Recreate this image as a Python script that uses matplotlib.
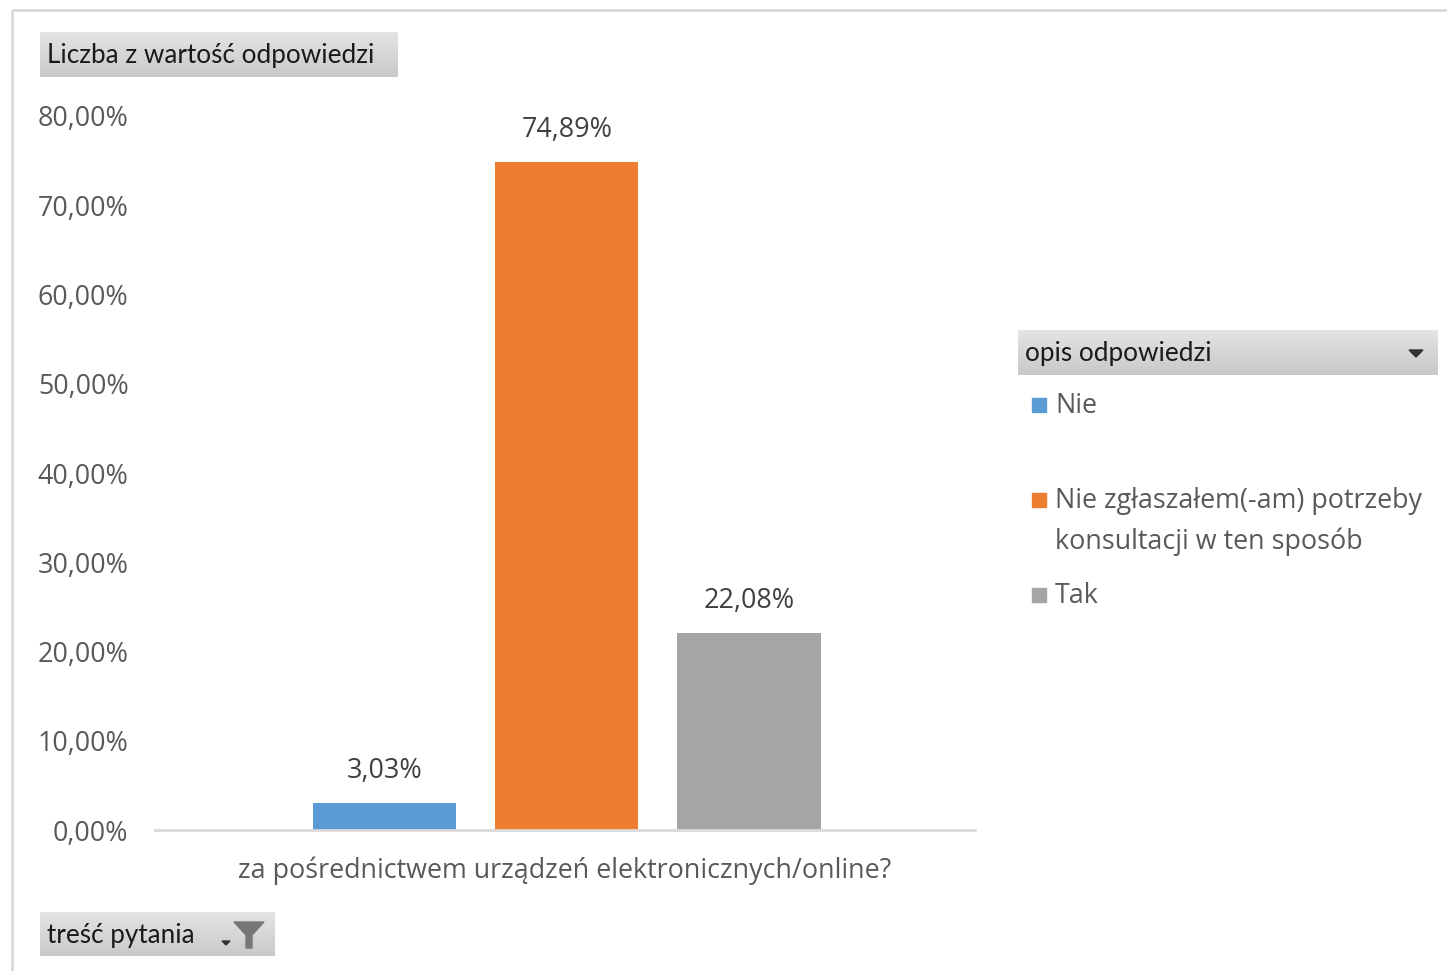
import numpy as np
import matplotlib
matplotlib.use("Agg")
import matplotlib.pyplot as plt
from matplotlib.patches import Rectangle, Polygon

plt.rcParams['font.family'] = ['Open Sans', 'DejaVu Sans']

# data
series = ["Nie", "Nie zgłaszałem(-am) potrzeby\nkonsultacji w ten sposób", "Tak"]
values = [3.03, 74.89, 22.08]
colors = ["#5B9BD5", "#ED7D31", "#A5A5A5"]
category = "za pośrednictwem urządzeń elektronicznych/online?"
yticks = [0, 10, 20, 30, 40, 50, 60, 70, 80]

W, H = 1447, 971
fig = plt.figure(figsize=(W / 100, H / 100), dpi=100)

def fx(px): return px / W
def fy(py): return 1 - py / H

txt_gray = "#595959"
fs = 19.4

# main axes
ax = fig.add_axes([fx(155), fy(830), fx(975) - fx(155), fy(116) - fy(830)])
x = np.arange(len(values))
ax.bar(x, values, width=0.786, color=colors, zorder=2)
for xi, v in zip(x, values):
    ax.text(xi, v + 2.0, f"{v:.2f}%".replace(".", ","), ha="center", va="bottom",
            fontsize=fs, color="#404040")
ax.set_xlim(-1.26, 3.24)
ax.set_ylim(0, 80)
ax.set_yticks(yticks)
ax.set_yticklabels([f"{t:.2f}%".replace(".", ",") for t in yticks], fontsize=fs, color=txt_gray)
ax.set_xticks([])
for s in ["top", "right", "left"]:
    ax.spines[s].set_visible(False)
ax.spines["bottom"].set_color("#d9d9d9")
ax.spines["bottom"].set_linewidth(2)
ax.tick_params(axis="y", length=0, pad=19)
ax.set_xlabel(category, fontsize=fs, color=txt_gray, labelpad=19)
ax.patch.set_alpha(0)

# overlay in pixel coordinates for the pivot-chart decorations
ov = fig.add_axes([0, 0, 1, 1], zorder=-1)
ov.axis("off")
ov.add_patch(Rectangle((12, 10), W + 50, H + 50, fill=False, ec="#d9d9d9", lw=2))

grad = np.linspace(0, 1, 64).reshape(-1, 1)
btn_cmap = matplotlib.colors.LinearSegmentedColormap.from_list("btn", ["#e4e4e4", "#c9c9c9"])
def button(x0, y0, x1, y1, label):
    ov.imshow(grad, extent=(x0, x1, y1, y0), cmap=btn_cmap, aspect="auto", zorder=1)
    ov.text(x0 + 7, (y0 + y1) / 2 + 1, label, fontsize=18.8, color="#1a1a1a", va="center", ha="left",
            family=["Lato", "DejaVu Sans"], zorder=2)

button(40, 32, 398, 77, "Liczba z wartość odpowiedzi")
button(40, 912, 275, 956, "treść pytania")
button(1018, 330, 1438, 375, "opis odpowiedzi")
ov.set_xlim(0, W)
ov.set_ylim(H, 0)

# dropdown arrow and filter icon
ov.add_patch(Polygon([(1409, 350), (1423, 350), (1416, 357)], color="#333333", zorder=3))
ov.add_patch(Polygon([(222, 941), (230, 941), (226, 945)], color="#333333", zorder=3))
ov.add_patch(Polygon([(234, 922), (264, 922), (252, 935), (252, 948), (246, 948), (246, 935)],
                     color="#777777", zorder=3))

# legend
leg_y = [405, 500, 595]
for yy, c, lab in zip(leg_y, colors, series):
    ov.add_patch(Rectangle((1032, yy - 7), 14, 14, color=c, zorder=3))
    ov.text(1055, yy - 13, lab, fontsize=fs, color=txt_gray, va="top", ha="left",
            linespacing=1.58, zorder=3)

fig.savefig("out.png", dpi=100, facecolor="white")
